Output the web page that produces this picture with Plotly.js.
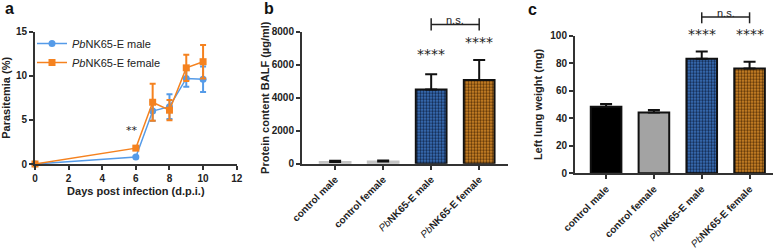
<!DOCTYPE html>
<html><head><meta charset="utf-8">
<script src="https://cdn.plot.ly/plotly-3.0.1.min.js"></script>
<style>html,body{margin:0;padding:0;background:#fff}#g{width:784px;height:248px}</style>
</head><body><div id="g"></div>
<script>
// Panel a: parasitemia time course
const days = [0, 6, 7, 8, 9, 10];
const maleParasitemia = [0, 0.8, 6.0, 6.5, 9.7, 9.6];
const maleParasitemiaErr = [0, 0.1, 1.1, 1.4, 0.95, 1.45];
const femaleParasitemia = [0, 1.8, 7.0, 6.1, 10.9, 11.6];
const femaleParasitemiaErr = [0, 0.15, 2.1, 1.15, 1.5, 1.9];
// Panels b and c: groups
const groups = ["control male", "control female",
  "<span style='font-style:italic;font-weight:normal'>Pb</span>NK65-E male",
  "<span style='font-style:italic;font-weight:normal'>Pb</span>NK65-E female"];
const proteinBALF = [100, 130, 4490, 5070];
const proteinBALFErr = [80, 60, 930, 1210];
const lungWeight = [48.3, 44.2, 83.2, 76.2];
const lungWeightErr = [2.1, 1.8, 5.3, 4.8];
const starsB = ["", "", "****", "****"];
const starsBY = [0, 0, 6650, 7350];
const starsC = ["", "", "****", "****"];
const starsCY = [0, 0, 99, 99];

const FF = "Liberation Sans, Arial, sans-serif";
const BLUE = "#559be8", ORANGE = "#f5821f";
const tickBold = {family: FF, size: 10, color: "#222", weight: "bold"};
const titleBold = {family: FF, size: 11, color: "#222", weight: "bold"};

const barColorsC = ["#000000", "#a3a3a3", "#3f79c6", "#dc8e2a"];
const barColorsB = ["#c4c4c4", "#c4c4c4", "#3f79c6", "#dc8e2a"];
const barLineB = ["#c4c4c4", "#c4c4c4", "#111111", "#111111"];
const patFg = ["", "", "#132a50", "#5e3608"];
const patShape = ["", "", ".", "."];

const traces = [
  {x: days, y: maleParasitemia, name: "<i>Pb</i>NK65-E male", type: "scatter", mode: "lines+markers",
   xaxis: "x", yaxis: "y", line: {color: BLUE, width: 1.5}, marker: {color: BLUE, size: 7, symbol: "circle"},
   error_y: {type: "data", array: maleParasitemiaErr, color: BLUE, thickness: 2, width: 3}, cliponaxis: false},
  {x: days, y: femaleParasitemia, name: "<i>Pb</i>NK65-E female", type: "scatter", mode: "lines+markers",
   xaxis: "x", yaxis: "y", line: {color: ORANGE, width: 1.5}, marker: {color: ORANGE, size: 7, symbol: "square"},
   error_y: {type: "data", array: femaleParasitemiaErr, color: ORANGE, thickness: 2, width: 3}, cliponaxis: false}
];
function barTrace(i, vals, errs, colors, lineColors, ax) {
  const m = {color: colors[i], line: {color: lineColors[i], width: 2}};
  if (patShape[i]) m.pattern = {shape: patShape[i], fgcolor: patFg[i], bgcolor: colors[i], size: 3, solidity: 0.5, fillmode: "replace"};
  return {x: [groups[i]], y: [vals[i]], type: "bar", xaxis: "x" + ax, yaxis: "y" + ax, width: 0.64, showlegend: false,
    marker: m,
    error_y: {type: "data", array: [errs[i]], arrayminus: [0], symmetric: false, color: "#111", thickness: 2, width: 6}};
}
for (let i = 0; i < groups.length; i++) traces.push(barTrace(i, proteinBALF, proteinBALFErr, barColorsB, barLineB, 2));
for (let i = 0; i < groups.length; i++) traces.push(barTrace(i, lungWeight, lungWeightErr, barColorsC, ["#111","#111","#111","#111"], 3));

function yax(extra) {
  return Object.assign({showline: true, linecolor: "#333", linewidth: 2, ticks: "outside", ticklen: 4,
    tickwidth: 2, tickcolor: "#333", showgrid: false, zeroline: false, tickfont: tickBold,
    fixedrange: true}, extra);
}
function xcat(extra) {
  return Object.assign({anchor: "y", type: "category", categoryorder: "array", categoryarray: groups,
    showline: true, linecolor: "#333", linewidth: 2, ticks: "outside", ticklen: 4, tickwidth: 2, tickcolor: "#333",
    showgrid: false, zeroline: false, tickangle: -45, tickfont: {family: FF, size: 10, color: "#222", weight: "bold"}}, extra);
}
const py = v => 1 - v / 248;
const letterFont = {family: FF, size: 16, color: "#111", weight: "bold"};
const annotations = [
  {text: "a", x: 3/784, y: py(9), xref: "paper", yref: "paper", xanchor: "left", yanchor: "middle", showarrow: false, font: letterFont},
  {text: "b", x: 262/784, y: py(9), xref: "paper", yref: "paper", xanchor: "left", yanchor: "middle", showarrow: false, font: letterFont},
  {text: "c", x: 526/784, y: py(10), xref: "paper", yref: "paper", xanchor: "left", yanchor: "middle", showarrow: false, font: letterFont},
  {text: "**", x: 5.8, y: 3.75, xref: "x", yref: "y", showarrow: false, font: {family: "DejaVu Sans", size: 11, color: "#222"}},
  {text: "n.s.", x: 2.5, y: py(11.5), xref: "x2", yref: "paper", showarrow: false, font: {family: FF, size: 11, color: "#222"}},
  {text: "n.s.", x: 2.5, y: py(4.8), xref: "x3", yref: "paper", showarrow: false, font: {family: FF, size: 11, color: "#222"}}
];
for (let i = 0; i < groups.length; i++) {
  if (starsB[i]) annotations.push({text: starsB[i], x: i, y: starsBY[i], xref: "x2", yref: "y2", yanchor: "middle", showarrow: false, font: {family: "DejaVu Sans", size: 14, color: "#222"}});
  if (starsC[i]) annotations.push({text: starsC[i], x: i, y: starsCY[i], yshift: 3, xref: "x3", yref: "y3", yanchor: "middle", showarrow: false, font: {family: "DejaVu Sans", size: 14, color: "#222"}});
}
const ln = {color: "#222", width: 1.5};
const shapes = [
  {type: "line", xref: "x2", yref: "paper", x0: 2, x1: 3, y0: py(24.5), y1: py(24.5), line: ln},
  {type: "line", xref: "x2", yref: "paper", x0: 2, x1: 2, y0: py(18.3), y1: py(30.5), line: ln},
  {type: "line", xref: "x2", yref: "paper", x0: 3, x1: 3, y0: py(18.3), y1: py(30.5), line: ln},
  {type: "line", xref: "x3", yref: "paper", x0: 2, x1: 3, y0: py(17), y1: py(17), line: ln},
  {type: "line", xref: "x3", yref: "paper", x0: 2, x1: 2, y0: py(12.3), y1: py(23.3), line: ln},
  {type: "line", xref: "x3", yref: "paper", x0: 3, x1: 3, y0: py(12.3), y1: py(23.3), line: ln}
];

const layout = {
  width: 784, height: 248, margin: {l: 0, r: 0, t: 0, b: 0}, paper_bgcolor: "#fff", plot_bgcolor: "rgba(0,0,0,0)",
  font: {family: FF, color: "#222"}, barmode: "overlay",
  showlegend: true,
  legend: {x: 32/784, y: py(29), xanchor: "left", yanchor: "top", bgcolor: "rgba(0,0,0,0)",
           font: {family: FF, size: 11, color: "#222"}, tracegroupgap: 0, itemwidth: 30},
  xaxis: {domain: [35/784, 236.7/784], range: [0, 12], dtick: 2, anchor: "y",
          showline: true, linecolor: "#333", linewidth: 2, ticks: "outside", ticklen: 4, tickwidth: 2, tickcolor: "#333",
          showgrid: false, zeroline: false, tickfont: tickBold,
          title: {text: "Days post infection (d.p.i.)", font: titleBold, standoff: 4}},
  yaxis: yax({domain: [84/248, 216.3/248], range: [0, 15], dtick: 5, anchor: "x",
          title: {text: "Parasitemia (%)", font: titleBold, standoff: 6}}),
  xaxis2: xcat({domain: [302/784, 508/784], range: [-0.69, 3.6], anchor: "y2"}),
  yaxis2: yax({domain: [84.3/248, 216.3/248], range: [0, 8000], dtick: 2000, anchor: "x2",
          title: {text: "Protein content BALF (µg/ml)", font: titleBold, standoff: 0}}),
  xaxis3: xcat({domain: [575/784, 773/784], range: [-0.65, 3.49], anchor: "y3"}),
  yaxis3: yax({domain: [74.7/248, 212.3/248], range: [0, 100], dtick: 20, anchor: "x3",
          title: {text: "Left lung weight (mg)", font: titleBold, standoff: 5}}),
  annotations: annotations, shapes: shapes
};
Plotly.newPlot("g", traces, layout, {staticPlot: true, displayModeBar: false});
</script></body></html>
